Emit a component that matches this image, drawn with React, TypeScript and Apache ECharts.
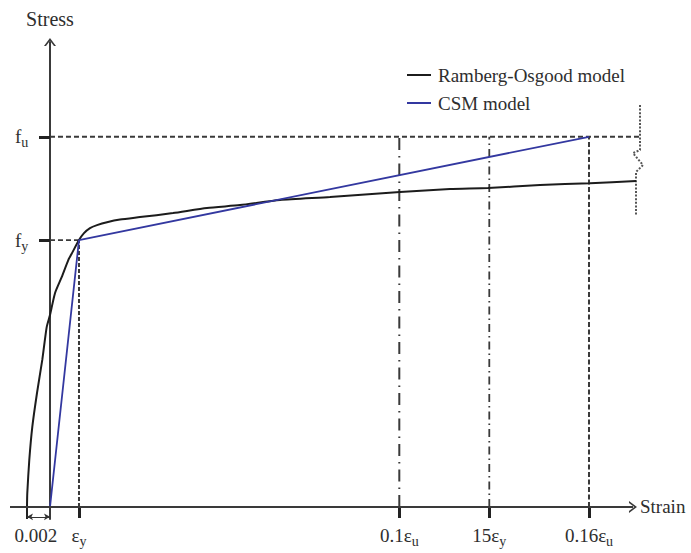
import React, { useEffect, useRef } from 'react';
import * as echarts from 'echarts';

// Strain in units of eps_y, stress in units of f_y
const roStrain = [-0.793, -0.783, -0.714, -0.61, -0.448, -0.266, -0.114, 0, 0.172, 0.403, 0.631, 0.759, 1.0, 1.172, 1.379, 1.621, 1.966, 2.414, 3.103, 4.241, 5.414, 6.552, 7.931, 9.655, 12.069, 13.793, 15.103, 16.897, 18.621, 20.207];
const roStress = [0, 0.052, 0.176, 0.3, 0.427, 0.551, 0.674, 0.719, 0.801, 0.861, 0.925, 0.951, 1.0, 1.026, 1.045, 1.056, 1.067, 1.077, 1.086, 1.101, 1.12, 1.131, 1.15, 1.161, 1.18, 1.191, 1.195, 1.206, 1.213, 1.221];

const csmStrain = [0, 1, 18.586];
const csmStress = [0, 1, 1.387];

const fyLevel = 1;
const fuLevel = 1.387;
const epsY = 1;
const eps01u = 12.045;
const eps15y = 15.148;
const eps016u = 18.586;
const offsetStrain = -0.793;
const fuLineEnd = 20.345;

const breakStrain = [20.345, 20.345, 20.103, 20.448, 20.207, 20.207];
const breakStress = [1.506, 1.337, 1.326, 1.281, 1.255, 1.094];

const bracketDepth = -0.045;
const bracketArrowLevel = -0.037;

const strainMin = -1.379;
const strainMax = 20.5;
const strainArrowEnd = 20.103;
const stressMin = -0.045;
const stressMax = 1.742;

const strainTicks = [epsY, eps01u, eps15y, eps016u];
const strainLabelValues = [-0.43, epsY, eps01u, eps15y, eps016u];
const strainLabelMain = ['0.002', 'ε', '0.1ε', '15ε', '0.16ε'];
const strainLabelSub = ['', 'y', 'u', 'y', 'u'];

const stressTicks = [fyLevel, fuLevel];
const stressLabelMain = ['f', 'f'];
const stressLabelSub = ['y', 'u'];

const legendNames = ['Ramberg-Osgood model', 'CSM model'];

const FONT = "'Liberation Serif', 'Times New Roman', serif";
const TEXT = '#2e2e2e';
const BLACK = '#1c1c1c';
const BLUE = '#3338a0';
const GUIDE = '#3a3a3a';
const AXIS = '#3a3a3a';

const zip = (a: number[], b: number[]) => a.map((v, i) => [v, b[i]]);

const rich = {
  m: { fontSize: 19, fontFamily: FONT, color: TEXT },
  s: { fontSize: 14, fontFamily: FONT, color: TEXT, padding: [12, 0, 0, 0] },
};

const richLabel = (main: string, sub: string) => `{m|${main}}{s|${sub || ' '}}`;

const arrowPath = 'path://M0,8 L6,0 L12,8 L10,8 L6,2.7 L2,8 Z';

function guide(data: number[][], type: any, width = 1.8, color = GUIDE) {
  return {
    type: 'line',
    data,
    symbol: 'none',
    silent: true,
    clip: false,
    z: 1,
    lineStyle: { color, width, type },
    itemStyle: { color },
  };
}

export default function App() {
  const ref = useRef<HTMLDivElement>(null);

  useEffect(() => {
    if (!ref.current) return;
    const chart = echarts.init(ref.current, undefined, { renderer: 'svg' });
    const option: any = {
      animation: false,
      backgroundColor: '#ffffff',
      grid: {
        left: 10,
        right: 46.5,
        top: 42,
        bottom: 34,
        containLabel: false,
        outerBoundsMode: 'none',
      },
      legend: {
        data: legendNames,
        orient: 'vertical',
        left: 402,
        top: 60,
        icon: 'rect',
        itemWidth: 24,
        itemHeight: 2,
        itemGap: 8,
        selectedMode: false,
        textStyle: { fontSize: 19, lineHeight: 20, fontFamily: FONT, color: TEXT, padding: [0, 0, 0, 2] },
      },
      xAxis: {
        type: 'value',
        min: strainMin,
        max: strainMax,
        name: 'Strain',
        nameLocation: 'end',
        nameGap: -4.5,
        nameTextStyle: { fontSize: 19, fontFamily: FONT, color: TEXT },
        axisLine: { show: false, onZero: true },
        axisTick: {
          show: true,
          customValues: strainTicks,
          length: 11,
          lineStyle: { color: '#222', width: 3 },
        },
        axisLabel: {
          show: true,
          customValues: strainLabelValues,
          margin: 3,
          formatter: (value: number) => {
            const i = strainLabelValues.findIndex((v) => Math.abs(v - value) < 1e-6);
            return i < 0 ? '' : richLabel(strainLabelMain[i], strainLabelSub[i]);
          },
          rich,
        },
        splitLine: { show: false },
      },
      yAxis: {
        type: 'value',
        min: stressMin,
        max: stressMax,
        name: 'Stress',
        nameLocation: 'end',
        nameGap: 12,
        nameTextStyle: { fontSize: 20, lineHeight: 22, fontFamily: FONT, color: TEXT, align: 'center' },
        axisLine: {
          onZero: true,
          lineStyle: { color: AXIS, width: 2 },
          symbol: ['none', arrowPath],
          symbolSize: [12, 8],
        },
        axisTick: {
          show: true,
          customValues: stressTicks,
          length: 11,
          lineStyle: { color: '#222', width: 3 },
        },
        axisLabel: {
          show: true,
          inside: true,
          customValues: stressTicks,
          margin: 5,
          formatter: (value: number) => {
            const i = stressTicks.findIndex((v) => Math.abs(v - value) < 1e-6);
            return i < 0 ? '' : richLabel(stressLabelMain[i], stressLabelSub[i]);
          },
          rich,
        },
        splitLine: { show: false },
      },
      series: [
        {
          ...guide([[0, fuLevel], [fuLineEnd, fuLevel]], [5, 3]),
          markLine: {
            silent: true,
            symbol: ['none', arrowPath],
            symbolSize: [12, 8],
            label: { show: false },
            lineStyle: { color: AXIS, width: 2, type: 'solid' },
            data: [[{ coord: [strainMin, 0] }, { coord: [strainArrowEnd, 0] }]],
          },
        },
        guide([[0, fyLevel], [epsY, fyLevel]], [5, 3]),
        guide([[epsY, 0], [epsY, fyLevel]], [4, 2], 2),
        guide([[eps01u, 0], [eps01u, fuLevel]], [12, 6, 1.5, 6], 2),
        guide([[eps15y, 0], [eps15y, fuLevel]], [8, 4, 1.5, 4], 1.8),
        guide([[eps016u, 0], [eps016u, fuLevel]], [5, 2.5], 2),
        guide(zip(breakStrain, breakStress), [2, 1.6], 2, '#555'),
        {
          ...guide([[offsetStrain, 0], [offsetStrain, bracketDepth]], 'solid', 2, '#222'),
          markLine: {
            silent: true,
            symbol: ['arrow', 'arrow'],
            symbolSize: [5, 6],
            label: { show: false },
            lineStyle: { color: '#333', width: 1, type: 'solid' },
            data: [[{ coord: [offsetStrain, bracketArrowLevel] }, { coord: [0, bracketArrowLevel] }]],
          },
        },
        {
          name: legendNames[0],
          type: 'line',
          data: zip(roStrain, roStress),
          symbol: 'none',
          smooth: 0.2,
          clip: false,
          z: 3,
          lineStyle: { color: BLACK, width: 2 },
          itemStyle: { color: BLACK },
        },
        {
          name: legendNames[1],
          type: 'line',
          data: zip(csmStrain, csmStress),
          symbol: 'none',
          clip: false,
          z: 4,
          lineStyle: { color: BLUE, width: 1.8 },
          itemStyle: { color: BLUE },
        },
      ],
    };
    chart.setOption(option);
    return () => chart.dispose();
  }, []);

  return (
    <div
      ref={ref}
      style={{ position: 'absolute', left: 0, top: 0, width: 691, height: 553, background: '#fff' }}
    />
  );
}
